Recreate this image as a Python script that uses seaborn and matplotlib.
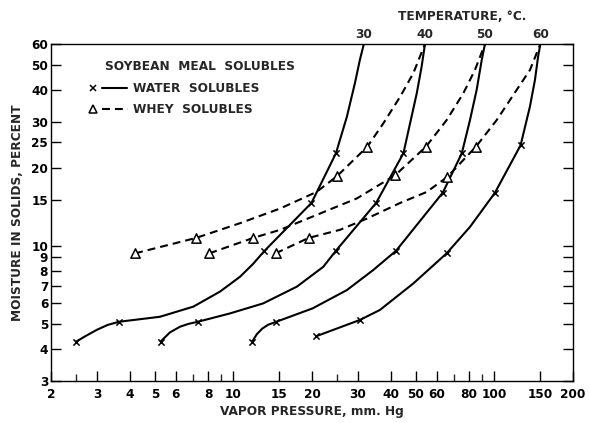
import matplotlib
matplotlib.use("Agg")
import matplotlib.pyplot as plt
import matplotlib.transforms as mtransforms
from matplotlib.ticker import NullFormatter
import seaborn as sns

# ---------------- data ----------------
temperatures = [30, 40, 50, 60]

# Water solubles: marked points (x) -- vapor pressure (mm Hg), moisture (%)
water30_vp = [2.5, 3.65, 13.1, 19.9, 24.7]
water30_moist = [4.26, 5.08, 9.5, 14.6, 22.7]
water40_vp = [5.26, 7.31, 24.7, 35.2, 44.8]
water40_moist = [4.26, 5.08, 9.55, 14.6, 22.7]
water50_vp = [11.8, 14.6, 42.0, 63.4, 75.0]
water50_moist = [4.26, 5.08, 9.55, 16.0, 22.7]
water60_vp = [20.8, 30.5, 65.6, 100.5, 126.0]
water60_moist = [4.47, 5.16, 9.33, 16.0, 24.4]

# Water solubles: traced curve paths
water30_line_vp = [2.5, 2.72, 3.0, 3.3, 3.65, 5.23, 7.02, 8.88, 10.6, 11.9, 13.1, 19.9, 24.7,
                   27.2, 29.2, 30.5, 31.6]
water30_line_moist = [4.26, 4.48, 4.73, 4.94, 5.08, 5.31, 5.81, 6.64, 7.58, 8.5, 9.5, 14.6, 22.7,
                      31.4, 42.3, 52.0, 60.0]
water40_line_vp = [5.26, 5.71, 6.24, 6.7, 7.31, 9.7, 13.0, 17.5, 22.1, 24.7, 35.2, 44.8, 47.5,
                   50.4, 52.6, 54.2]
water40_line_moist = [4.26, 4.62, 4.86, 4.98, 5.08, 5.47, 5.98, 6.94, 8.28, 9.55, 14.6, 22.7,
                      29.6, 38.7, 49.0, 60.0]
water50_line_vp = [11.8, 12.3, 12.9, 13.6, 14.6, 20.1, 27.2, 34.3, 42.0, 63.4, 75.0, 80.6, 85.5,
                   89.4, 92.0]
water50_line_moist = [4.26, 4.55, 4.78, 4.95, 5.08, 5.72, 6.73, 8.04, 9.55, 16.0, 22.7, 30.5,
                      39.9, 52.0, 60.0]
water60_line_vp = [20.8, 30.5, 36.4, 48.9, 65.6, 80.6, 100.5, 126.0, 136.8, 143.0, 147.0, 150.0]
water60_line_moist = [4.47, 5.16, 5.64, 7.14, 9.33, 11.8, 16.0, 24.4, 34.4, 43.6, 53.6, 60.0]

# Whey solubles: marked points (triangles)
whey40_vp = [4.2, 7.19, 24.9, 32.6]
whey40_moist = [9.33, 10.7, 18.5, 24.1]
whey50_vp = [8.08, 11.9, 41.7, 54.7]
whey50_moist = [9.33, 10.7, 18.7, 24.1]
whey60_vp = [14.5, 19.4, 66.0, 85.0]
whey60_moist = [9.33, 10.7, 18.4, 24.1]

# Whey solubles: traced curve paths
whey40_line_vp = [4.2, 7.19, 10.6, 15.1, 20.8, 24.9, 32.6, 37.5, 43.5, 48.9, 54.2]
whey40_line_moist = [9.33, 10.7, 12.2, 13.9, 16.1, 18.5, 24.1, 29.6, 37.5, 46.3, 60.0]
whey50_line_vp = [8.08, 11.9, 15.1, 21.5, 29.7, 41.7, 54.7, 65.6, 76.0, 84.2, 92.0]
whey50_line_moist = [9.33, 10.7, 11.5, 13.3, 15.2, 18.7, 24.1, 30.5, 38.7, 47.6, 60.0]
whey60_line_vp = [14.5, 19.4, 25.6, 32.4, 43.5, 55.0, 66.0, 85.0, 102.0, 121.7, 136.8, 150.0]
whey60_line_moist = [9.33, 10.7, 11.5, 12.7, 14.6, 16.1, 18.4, 24.1, 30.5, 39.9, 47.6, 60.0]

x_major = [2, 3, 4, 5, 6, 8, 10, 15, 20, 30, 40, 50, 60, 80, 100, 150, 200]
x_minor = [2.5, 7, 9, 25, 70, 90]
y_ticks = [3, 4, 5, 6, 7, 8, 9, 10, 15, 20, 25, 30, 40, 50, 60]

# ---------------- style ----------------
sns.set_theme(style="ticks")
plt.rcParams["font.family"] = ["DejaVu Sans"]
plt.rcParams["font.weight"] = "bold"
plt.rcParams["axes.linewidth"] = 1.0
FS = 8.7

fig = plt.figure(figsize=(5.89, 4.23), dpi=100)
ax = fig.add_axes([0.0866, 0.0993, 0.8862, 0.7967])
ax.set_xscale("log")
ax.set_yscale("log")

LW = 1.5
DASH = (0, (3.8, 2.4))

water_lines = [(water30_line_vp, water30_line_moist), (water40_line_vp, water40_line_moist),
               (water50_line_vp, water50_line_moist), (water60_line_vp, water60_line_moist)]
water_marks = [(water30_vp, water30_moist), (water40_vp, water40_moist),
               (water50_vp, water50_moist), (water60_vp, water60_moist)]
whey_lines = [(whey40_line_vp, whey40_line_moist), (whey50_line_vp, whey50_line_moist),
              (whey60_line_vp, whey60_line_moist)]
whey_marks = [(whey40_vp, whey40_moist), (whey50_vp, whey50_moist), (whey60_vp, whey60_moist)]

for vx, vy in water_lines:
    sns.lineplot(x=vx, y=vy, sort=False, estimator=None, color="black", lw=LW, ax=ax)
for vx, vy in whey_lines:
    sns.lineplot(x=vx, y=vy, sort=False, estimator=None, color="black", lw=LW,
                 linestyle=DASH, ax=ax)
for vx, vy in water_marks:
    sns.scatterplot(x=vx, y=vy, marker="x", color="black", s=20, linewidth=1.1, ax=ax, zorder=5)
for vx, vy in whey_marks:
    sns.scatterplot(x=vx, y=vy, marker="^", color="white", edgecolor="black", s=45,
                    linewidth=1.1, ax=ax, zorder=5)

ax.set_xlim(2, 200)
ax.set_ylim(3, 60)

ax.set_xticks(x_major, labels=[str(v) for v in x_major])
ax.set_xticks(x_minor, minor=True)
ax.xaxis.set_minor_formatter(NullFormatter())
ax.set_yticks(y_ticks, labels=[str(v) for v in y_ticks])
ax.set_yticks([], minor=True)

ax.tick_params(axis="x", which="major", direction="in", length=7.2, width=1.0,
               top=False, bottom=True, pad=5, labelsize=FS, colors="black")
ax.tick_params(axis="x", which="minor", direction="in", length=5, width=1.0,
               top=False, bottom=True)
ax.tick_params(axis="y", which="major", direction="in", length=7.2, width=1.0,
               left=True, right=True, labelright=False, pad=2, labelsize=FS, colors="black")
for lab in ax.get_xticklabels() + ax.get_yticklabels():
    lab.set_fontweight("bold")

for s in ax.spines.values():
    s.set_color("black")
    s.set_linewidth(1.0)

ax.set_xlabel("VAPOR PRESSURE, mm. Hg", fontsize=FS, fontweight="bold", labelpad=3)
ax.set_ylabel("MOISTURE IN SOLIDS, PERCENT", fontsize=FS, fontweight="bold", labelpad=5)

# temperature labels at top of each curve
top_x = [water30_line_vp[-1], water40_line_vp[-1], water50_line_vp[-1], water60_line_vp[-1]]
blend = mtransforms.blended_transform_factory(ax.transData, ax.transAxes)
for t, xv in zip(temperatures, top_x):
    ax.text(xv, 1.010, str(t), transform=blend, ha="center", va="bottom",
            fontsize=FS, fontweight="bold")
ax.text(0.788, 1.081, "TEMPERATURE, °C.", transform=ax.transAxes, ha="center",
        va="center", fontsize=FS, fontweight="bold")

# legend (drawn as key symbols + text)
ax.text(0.1034, 0.932, "SOYBEAN  MEAL  SOLUBLES", transform=ax.transAxes, ha="left",
        va="center", fontsize=FS, fontweight="bold")
ax.plot([0.0805], [0.8694], marker="x", color="black", ms=4.5, mew=1.1,
        transform=ax.transAxes, ls="none")
ax.plot([0.0977, 0.1456], [0.8694, 0.8694], color="black", lw=LW, transform=ax.transAxes)
ax.text(0.157, 0.8694, "WATER  SOLUBLES", transform=ax.transAxes, ha="left", va="center",
        fontsize=FS, fontweight="bold")
ax.plot([0.0805], [0.807], marker="^", mfc="white", mec="black", ms=6, mew=1.1,
        transform=ax.transAxes, ls="none")
ax.plot([0.0977, 0.1475], [0.807, 0.807], color="black", lw=LW, ls=DASH,
        transform=ax.transAxes)
ax.text(0.157, 0.807, "WHEY  SOLUBLES", transform=ax.transAxes, ha="left", va="center",
        fontsize=FS, fontweight="bold")

fig.savefig("out.png", dpi=100)
